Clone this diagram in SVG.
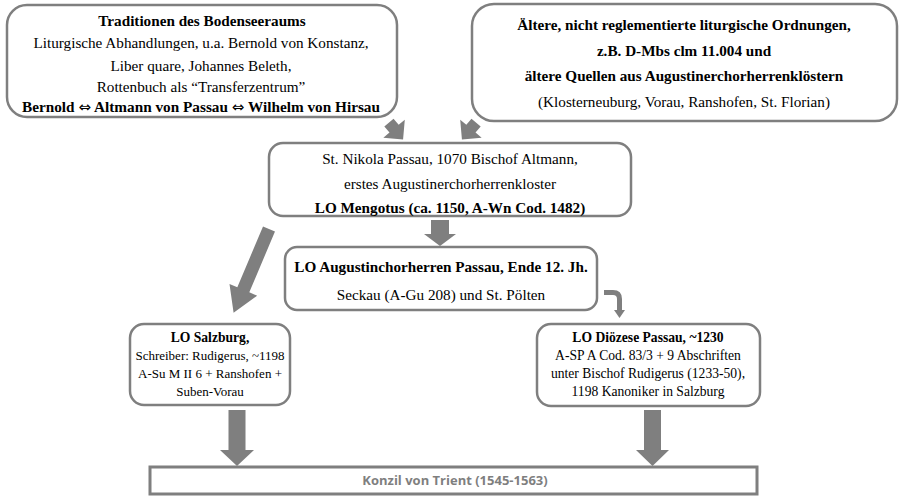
<svg xmlns="http://www.w3.org/2000/svg" width="903" height="498" viewBox="0 0 903 498">
<style>
.box{fill:#fff;stroke:#7f7f7f;stroke-width:2.5}
.t{font-family:"Liberation Serif","Times New Roman",serif;font-size:15.2px;fill:#000;text-anchor:middle}
.s{font-size:13.6px}
.s2{font-size:13px}
.b{font-weight:bold}
.sym{font-family:"DejaVu Sans",sans-serif;font-weight:normal;font-size:15px}
.arr{fill:#7f7f7f}
.k{font-family:"Open Sans","Liberation Sans",sans-serif;font-size:13px;font-weight:bold;fill:#7f7f7f;text-anchor:middle}
</style>
<g id="connectors">
<g transform="translate(396,131) rotate(-40) translate(0,-11)"><polygon class="arr" points="-6,0 6,0 6,8 14,8 0,22 -14,8 -6,8"/></g>
<g transform="translate(469,131) rotate(40) translate(0,-11)"><polygon class="arr" points="-6,0 6,0 6,8 14,8 0,22 -14,8 -6,8"/></g>
<polygon class="arr" points="431,220 449,220 449,234 456,234 440,246 424,234 431,234"/>
<g transform="translate(269,229) rotate(22.9)"><polygon class="arr" points="-6.5,0 6.5,0 6.5,66 15,66 0,91 -15,66 -6.5,66"/></g>
<path d="M604,292.5 H613 Q619.5,292.5 619.5,299 V311" fill="none" stroke="#7f7f7f" stroke-width="5"/>
<polygon class="arr" points="614,310 625,310 619.5,318"/>
<polygon class="arr" points="228.5,410 245.5,410 245.5,450 254,450 237,466 220,450 228.5,450"/>
<polygon class="arr" points="644,410 661,410 661,450 669,450 652.5,466 636,450 644,450"/>
</g>
<g id="n1">
<rect class="box" x="7" y="5" width="390" height="112" rx="20"/>
<text class="t b" x="202" y="26">Traditionen des Bodenseeraums</text>
<text class="t" x="201" y="48">Liturgische Abhandlungen, u.a. Bernold von Konstanz,</text>
<text class="t" x="201" y="71">Liber quare, Johannes Beleth,</text>
<text class="t" x="201" y="92">Rottenbuch als “Transferzentrum”</text>
<text class="t b" x="201" y="112" textLength="358" lengthAdjust="spacingAndGlyphs">Bernold <tspan class="sym">⇔</tspan> Altmann von Passau <tspan class="sym">⇔</tspan> Wilhelm von Hirsau</text>
</g>
<g id="n2">
<rect class="box" x="472" y="4" width="425" height="117" rx="22"/>
<text class="t b" x="684" y="30">Ältere, nicht reglementierte liturgische Ordnungen,</text>
<text class="t b" x="684" y="56">z.B. D-Mbs clm 11.004 und</text>
<text class="t b" x="684" y="81">ältere Quellen aus Augustinerchorherrenklöstern</text>
<text class="t" x="684" y="107">(Klosterneuburg, Vorau, Ranshofen, St. Florian)</text>
</g>
<g id="n3">
<rect class="box" x="269" y="143" width="362" height="73" rx="14"/>
<text class="t" x="450" y="164">St. Nikola Passau, 1070 Bischof Altmann,</text>
<text class="t" x="450" y="189">erstes Augustinerchorherrenkloster</text>
<text class="t b" x="450" y="213">LO Mengotus (ca. 1150, A-Wn Cod. 1482)</text>
</g>
<g id="n4">
<rect class="box" x="285" y="247" width="312" height="63" rx="12"/>
<text class="t b" x="441" y="272">LO Augustinchorherren Passau, Ende 12. Jh.</text>
<text class="t" x="441" y="300">Seckau (A-Gu 208) und St. Pölten</text>
</g>
<g id="n5">
<rect class="box" x="130" y="324" width="160" height="81" rx="14"/>
<text class="t s b" x="210" y="342">LO Salzburg,</text>
<text class="t s2" x="210" y="360">Schreiber: Rudigerus, ~1198</text>
<text class="t s2" x="210" y="378">A-Su M II 6 + Ranshofen +</text>
<text class="t s2" x="210" y="396">Suben-Vorau</text>
</g>
<g id="n6">
<rect class="box" x="537" y="324" width="223" height="82" rx="14"/>
<text class="t s b" x="648" y="342">LO Diözese Passau, ~1230</text>
<text class="t s" x="648" y="360">A-SP A Cod. 83/3 + 9 Abschriften</text>
<text class="t s" x="648" y="378">unter Bischof Rudigerus (1233-50),</text>
<text class="t s" x="648" y="396">1198 Kanoniker in Salzburg</text>
</g>
<g id="n7">
<rect x="150" y="467" width="607" height="27" fill="#fff" stroke="#7f7f7f" stroke-width="3"/>
<text class="k" x="455" y="485">Konzil von Trient (1545-1563)</text>
</g>
</svg>
